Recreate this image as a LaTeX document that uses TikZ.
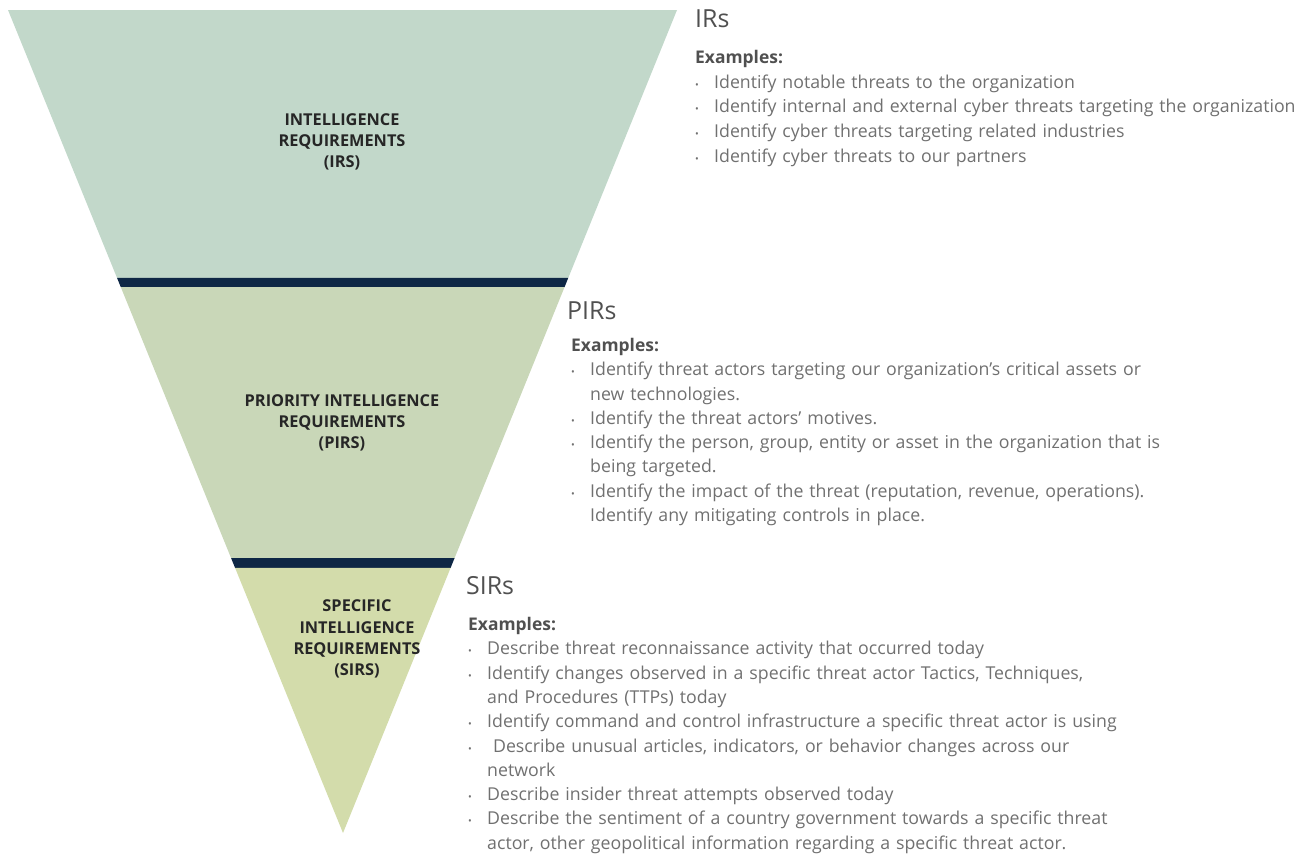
\documentclass[tikz,border=0pt]{standalone}
\usepackage{fontspec}
\setmainfont{Open Sans}
\usetikzlibrary{calc,positioning}

\definecolor{irfill}{HTML}{C2D8CA}
\definecolor{pirfill}{HTML}{C9D7B8}
\definecolor{sirfill}{HTML}{D3DCAB}
\definecolor{bandnavy}{HTML}{0E2745}
\definecolor{headgray}{HTML}{505050}
\definecolor{textgray}{HTML}{707070}

% bullet with hanging indent
\newcommand{\bul}{\par\hangindent=19bp\hangafter=1\noindent\makebox[19bp][l]{\fontsize{10}{10}\selectfont\textbullet}}
\newcommand{\examples}{\noindent{\color{headgray}\bfseries\fontsize{17.5}{24.4}\selectfont Examples:}}

\tikzset{
    tierlabel/.style={align=center, inner sep=0pt, text=black!85,
        font=\fontsize{16.4}{21.3}\selectfont\bfseries},
    heading/.style={anchor=base west, inner sep=0pt, text=headgray,
        font=\fontsize{25}{28}\selectfont},
    examplelist/.style={anchor=north west, inner sep=0pt, text width=#1,
        align=left, text=textgray, font=\fontsize{17.8}{24.4}\selectfont},
}

\begin{document}
\begin{tikzpicture}[x=1bp, y=-1bp]
    \useasboundingbox (0,0) rectangle (1316,855);

    % Funnel
    \coordinate (tl) at (8,10);
    \coordinate (tr) at (677,10);
    \coordinate (apex) at (343,833);
    \coordinate (b1tl) at ($(tl)!0.3256!(apex)$);
    \coordinate (b1tr) at ($(tr)!0.3256!(apex)$);
    \coordinate (b1bl) at ($(tl)!0.3366!(apex)$);
    \coordinate (b1br) at ($(tr)!0.3366!(apex)$);
    \coordinate (b2tl) at ($(tl)!0.6659!(apex)$);
    \coordinate (b2tr) at ($(tr)!0.6659!(apex)$);
    \coordinate (b2bl) at ($(tl)!0.6780!(apex)$);
    \coordinate (b2br) at ($(tr)!0.6780!(apex)$);

    \fill [irfill] (tl) -- (tr) -- (b1tr) -- (b1tl) -- cycle;
    \fill [bandnavy] (b1tl) -- (b1tr) -- (b1br) -- (b1bl) -- cycle;
    \fill [pirfill] (b1bl) -- (b1br) -- (b2tr) -- (b2tl) -- cycle;
    \fill [bandnavy] (b2tl) -- (b2tr) -- (b2br) -- (b2bl) -- cycle;
    \fill [sirfill] (b2bl) -- (b2br) -- (apex) -- cycle;

    \node [tierlabel] (irs) at (342,142) {INTELLIGENCE\\REQUIREMENTS\\(IRS)};
    \node [tierlabel] (pirs) at (342,423) {PRIORITY INTELLIGENCE\\REQUIREMENTS\\(PIRS)};
    \node [tierlabel] (sirs) at (357,639) {SPECIFIC\\INTELLIGENCE\\REQUIREMENTS\\(SIRS)};

    % IRs
    \node [heading] (irhead) at (695,27) {IRs};
    \node [examplelist=640bp, font=\fontsize{17.8}{24.8}\selectfont] (irlist) at (695,50) {\examples
        \bul Identify notable threats to the organization
        \bul Identify internal and external cyber threats targeting the organization
        \bul Identify cyber threats targeting related industries
        \bul Identify cyber threats to our partners\par};

    % PIRs
    \node [heading] (pirhead) at (567,319) {PIRs};
    \node [examplelist=700bp] (pirlist) at (571,338) {\examples
        \bul Identify threat actors targeting our organization’s critical assets or\newline new technologies.
        \bul Identify the threat actors’ motives.
        \bul Identify the person, group, entity or asset in the organization that is\newline being targeted.
        \bul Identify the impact of the threat (reputation, revenue, operations).\newline Identify any mitigating controls in place.\par};

    % SIRs
    \node [heading] (sirhead) at (466,594) {SIRs};
    \node [examplelist=800bp] (sirlist) at (468,617) {\examples
        \bul Describe threat reconnaissance activity that occurred today
        \bul Identify changes observed in a specific threat actor Tactics, Techniques,\newline and Procedures (TTPs) today
        \bul Identify command and control infrastructure a specific threat actor is using
        \bul \ Describe unusual articles, indicators, or behavior changes across our\newline network
        \bul Describe insider threat attempts observed today
        \bul Describe the sentiment of a country government towards a specific threat\newline actor, other geopolitical information regarding a specific threat actor.\par};
\end{tikzpicture}
\end{document}
